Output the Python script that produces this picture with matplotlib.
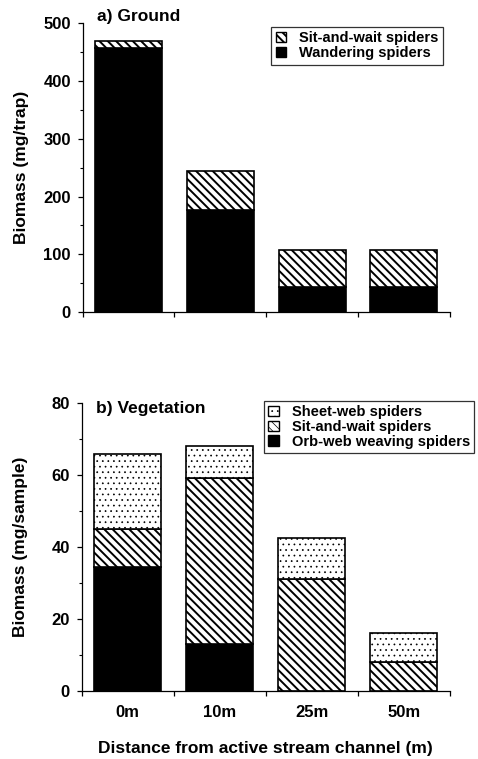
import numpy as np
import matplotlib
matplotlib.use("Agg")
import matplotlib.pyplot as plt
from matplotlib.patches import Patch
from matplotlib.ticker import MultipleLocator, FixedLocator

plt.rcParams['font.family'] = ['Liberation Sans', 'DejaVu Sans']
plt.rcParams['font.weight'] = 'bold'

# data
sites = ['0m', '10m', '25m', '50m']

# a) ground (mg/trap)
ground_wandering = [457, 177, 44, 44]
ground_sitwait = [11, 67, 64, 64]

# b) vegetation (mg/sample)
veg_orbweb = [34.5, 13.0, 0.0, 0.0]
veg_sitwait = [10.4, 46.0, 31.0, 8.1]
veg_sheetweb = [20.9, 9.0, 11.5, 8.1]

x = np.arange(len(sites))
w = 0.73
hatch_sit = '\\\\\\\\'
hatch_dot = '...'
fs = 12.5


def set_hatch_lw(lw):
    plt.rcParams['hatch.linewidth'] = lw


fig = plt.figure(figsize=(4.78, 7.59), dpi=100)
ax1 = fig.add_axes([0.173, 0.5885, 0.768, 0.3815])
ax2 = fig.add_axes([0.171, 0.0896, 0.770, 0.3798])


def style_axis(ax):
    ax.spines['top'].set_visible(False)
    ax.spines['right'].set_visible(False)
    ax.spines['left'].set_linewidth(0.9)
    ax.spines['bottom'].set_linewidth(0.9)
    ax.set_xlim(-0.5, 3.5)
    ax.set_xticks(x)
    ax.xaxis.set_minor_locator(FixedLocator(np.arange(-0.5, 4.0, 1.0)))
    ax.tick_params(axis='x', which='major', length=0, pad=10, labelsize=12)
    ax.tick_params(axis='x', which='minor', length=3.5, width=0.9, direction='out')
    ax.tick_params(axis='y', which='major', length=3.5, width=0.9, pad=5, labelsize=12)
    ax.tick_params(axis='y', which='minor', length=2.5, width=0.8)


# top panel
set_hatch_lw(1.4)
ax1.bar(x, ground_wandering, w, color='black', edgecolor='black', linewidth=1.2)
ax1.bar(x, ground_sitwait, w, bottom=ground_wandering, color='white',
        edgecolor='black', hatch=hatch_sit, linewidth=1.2)
style_axis(ax1)
ax1.set_xticklabels([])
ax1.set_ylim(0, 500)
ax1.yaxis.set_major_locator(MultipleLocator(100))
ax1.yaxis.set_minor_locator(MultipleLocator(50))
ax1.set_ylabel('Biomass (mg/trap)', fontsize=fs, fontweight='bold', labelpad=10)
ax1.text(0.04, 1.02, 'a) Ground', transform=ax1.transAxes, fontsize=fs,
         fontweight='bold', va='center', ha='left')
h1 = [Patch(facecolor='white', edgecolor='black', hatch=hatch_sit, label='Sit-and-wait spiders'),
      Patch(facecolor='black', edgecolor='black', label='Wandering spiders')]
leg1 = ax1.legend(handles=h1, loc='upper right', bbox_to_anchor=(0.981, 0.985),
                  fontsize=10.5, frameon=True, fancybox=False, handlelength=0.7,
                  handleheight=0.7, handletextpad=0.9, labelspacing=0.05,
                  borderpad=0.3, borderaxespad=0)
leg1.get_frame().set_edgecolor('black')
leg1.get_frame().set_linewidth(0.9)

# bottom panel
b1 = np.array(veg_orbweb)
b2 = b1 + np.array(veg_sitwait)
ax2.bar(x, veg_orbweb, w, color='black', edgecolor='black', linewidth=1.2)
ax2.bar(x, veg_sitwait, w, bottom=b1, color='white', edgecolor='black',
        hatch=hatch_sit, linewidth=1.2)
h_sit2 = Patch(facecolor='white', edgecolor='black', hatch=hatch_sit, label='Sit-and-wait spiders')
set_hatch_lw(0.5)
ax2.bar(x, veg_sheetweb, w, bottom=b2, color='white', edgecolor='black',
        hatch=hatch_dot, linewidth=1.2)
h_dot2 = Patch(facecolor='white', edgecolor='black', hatch=hatch_dot, label='Sheet-web spiders')
style_axis(ax2)
ax2.set_xticklabels(sites, fontweight='bold')
ax2.set_ylim(0, 80)
ax2.yaxis.set_major_locator(MultipleLocator(20))
ax2.yaxis.set_minor_locator(MultipleLocator(10))
ax2.set_ylabel('Biomass (mg/sample)', fontsize=fs, fontweight='bold', labelpad=17)
ax2.set_xlabel('Distance from active stream channel (m)', fontsize=fs,
               fontweight='bold', labelpad=15)
ax2.text(0.04, 0.98, 'b) Vegetation', transform=ax2.transAxes, fontsize=fs,
         fontweight='bold', va='center', ha='left')
h2 = [h_dot2, h_sit2,
      Patch(facecolor='black', edgecolor='black', label='Orb-web weaving spiders')]
leg2 = ax2.legend(handles=h2, loc='upper left', bbox_to_anchor=(0.495, 1.007),
                  fontsize=10.5, frameon=True, fancybox=False, handlelength=0.7,
                  handleheight=0.7, handletextpad=0.9, labelspacing=0.05,
                  borderpad=0.3, borderaxespad=0)
leg2.get_frame().set_edgecolor('black')
leg2.get_frame().set_linewidth(0.9)

fig.savefig('out.png', dpi=100)
